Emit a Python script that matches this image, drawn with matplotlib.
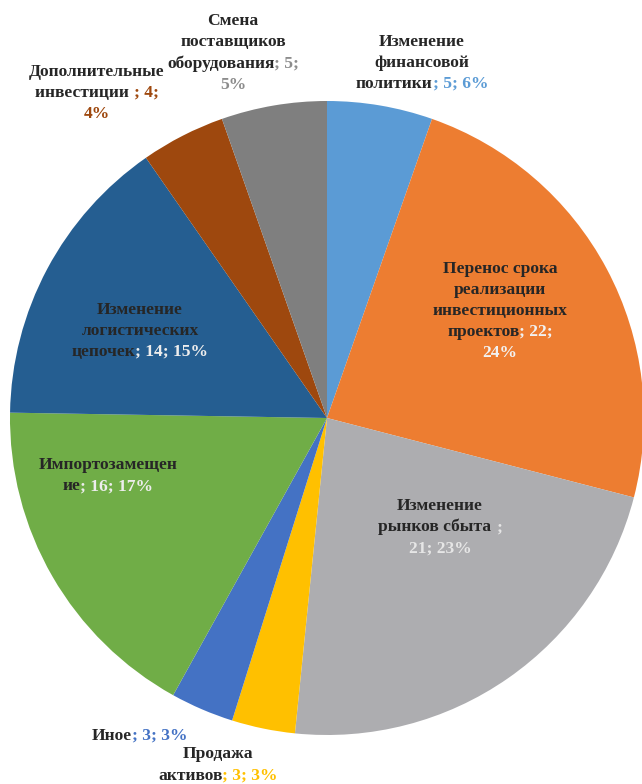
import matplotlib
matplotlib.use("Agg")
import matplotlib.pyplot as plt
from matplotlib.offsetbox import TextArea, HPacker, VPacker, AnnotationBbox

# ---------------------------------------------------------------------------
# Data (clockwise from 12 o'clock)
# ---------------------------------------------------------------------------
names = [
    "Изменение\nфинансовой\nполитики",
    "Перенос срока\nреализации\nинвестиционных\nпроектов",
    "Изменение\nрынков сбыта ",
    "Продажа\nактивов",
    "Иное",
    "Импортозамещен\nие",
    "Изменение\nлогистических\nцепочек",
    "Дополнительные\nинвестиции ",
    "Смена\nпоставщиков\nоборудования",
]
values = [5, 22, 21, 3, 3, 16, 14, 4, 5]
percents = [6, 24, 23, 3, 3, 17, 15, 4, 5]

colors = ["#5B9BD5", "#ED7D31", "#ADADB0", "#FFC000", "#4472C4",
          "#70AD47", "#255E91", "#9E480E", "#7F7F7F"]
tail_colors = ["#5B9BD5", "#F2F2F2", "#E6E6E6", "#FFC000", "#4472C4",
               "#EDEDED", "#EDEDED", "#9E480E", "#8C8C8C"]

# how the "; value; pct" tail wraps (layout only)
tail_fmt = ["; {v}; {p}%", "; {v};\n{p}%", ";\n{v}; {p}%", "; {v}; {p}%",
            "; {v}; {p}%", "; {v}; {p}%", "; {v}; {p}%", "; {v};\n{p}%",
            "; {v};\n{p}%"]
# label centres in figure pixels (from top-left)
label_pos = [(422, 63), (500, 311), (440, 527), (218, 765), (140, 736),
             (108, 476), (140, 331), (97, 93), (233, 53)]

W, H = 642, 784
CX, CY, R = 327, 418, 317
INK = "#262626"
FONT = dict(family="Liberation Serif", weight="bold", size=12.6)


def label_box(name, tail, tail_color):
    name_lines = name.split("\n")
    tail_lines = tail.split("\n")
    rows = [[(t, INK)] for t in name_lines[:-1]]
    rows.append([(name_lines[-1], INK), (tail_lines[0], tail_color)])
    rows += [[(t, tail_color)] for t in tail_lines[1:]]
    packs = []
    for row in rows:
        kids = [TextArea(t, textprops=dict(color=c, **FONT)) for t, c in row if t]
        packs.append(HPacker(children=kids, align="baseline", pad=0, sep=0))
    return VPacker(children=packs, align="center", pad=0, sep=3.6)


fig = plt.figure(figsize=(W / 100, H / 100), dpi=100)
ax = fig.add_axes([(CX - R) / W, (H - CY - R) / H, 2 * R / W, 2 * R / H])
ax.pie(values, colors=colors, startangle=90, counterclock=False,
       radius=1, wedgeprops=dict(linewidth=0))
ax.set_xlim(-1, 1)
ax.set_ylim(-1, 1)
ax.set_aspect("equal")
ax.axis("off")

for name, v, p, fmt, tc, (px, py) in zip(names, values, percents, tail_fmt,
                                         tail_colors, label_pos):
    box = label_box(name, fmt.format(v=v, p=p), tc)
    ab = AnnotationBbox(box, (px / W, 1 - py / H), xycoords="figure fraction",
                        frameon=False, box_alignment=(0.5, 0.5), pad=0)
    fig.add_artist(ab)

fig.savefig("out.png", dpi=100)
